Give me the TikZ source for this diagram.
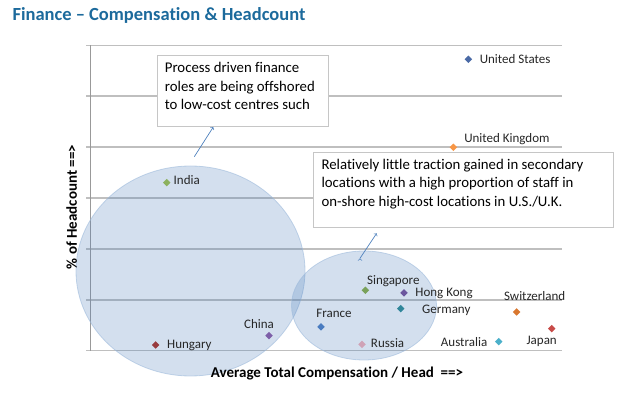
\documentclass[tikz,border=0pt]{standalone}
\usepackage{fontspec}
\setmainfont{Carlito}[Ligatures=NoCommon]
\usetikzlibrary{shapes.geometric,positioning}
\definecolor{ttlblue}{HTML}{1C6A9C}
\definecolor{blobblue}{HTML}{4F81BD}
\definecolor{cUS}{HTML}{4A6AA6}
\definecolor{cUK}{HTML}{F79646}
\definecolor{cIN}{HTML}{8CB15E}
\definecolor{cHU}{HTML}{983B3E}
\definecolor{cCN}{HTML}{7D5FA8}
\definecolor{cFR}{HTML}{4A7CC0}
\definecolor{cSG}{HTML}{79A15A}
\definecolor{cHK}{HTML}{6B569E}
\definecolor{cDE}{HTML}{31869A}
\definecolor{cRU}{HTML}{CFA2B6}
\definecolor{cAU}{HTML}{4BB0CA}
\definecolor{cCH}{HTML}{D9772F}
\definecolor{cJP}{HTML}{C84B48}

\begin{document}
\begin{tikzpicture}[x=1pt,y=-1pt,
  grid/.style={draw=gray!50,line width=1.5pt},
  blob/.style={draw=blobblue!55,fill=blobblue,fill opacity=.25,draw opacity=.6,line width=.8pt},
  pt/.style={diamond,fill=#1,inner sep=0pt,outer sep=0pt,minimum size=7.5pt},
  lbl/.style={inner sep=0pt,font=\fontsize{13}{15}\selectfont,text=black!85},
  note/.style={draw=gray!45,fill=white,line width=.8pt,anchor=north west},
  notetext/.style={inner sep=0pt,align=left,font=\fontsize{14.8}{18.3}\selectfont},
  arr/.style={->,draw=blobblue,line width=.7pt}]
\useasboundingbox (0,0) rectangle (625,403);

% title
\node[anchor=west,text=ttlblue,font=\fontsize{18.5}{22}\selectfont\bfseries] (title) at (9,15)
  {Finance -- Compensation \& Headcount};

% grid and axis
\foreach \k in {0,...,6}
  \draw[grid] (86,{45.3+50.9*\k}) -- (561.7,{45.3+50.9*\k});
\draw[draw=gray!80,line width=1.2pt] (90.5,45.3) -- (90.5,350.7);

% clusters
\node[blob,ellipse,minimum width=229pt,minimum height=210pt] (low) at (190.5,271) {};
\node[blob,ellipse,minimum width=145pt,minimum height=109pt] (mid) at (364,305.5) {};

% countries
\foreach \n/\x/\y/\c in {us/468.3/59.3/cUS, uk/453.3/147.3/cUK, in/166.7/182.7/cIN,
    hu/155.7/345/cHU, cn/269/335.7/cCN, fr/321/327/cFR, sg/365.3/290.3/cSG,
    hk/404/293/cHK, de/400.7/308.7/cDE, ru/362/344.3/cRU, au/498.7/341.7/cAU,
    ch/516.7/312/cCH, jp/551.7/328.7/cJP}
  \node[pt=\c] (\n) at (\x,\y) {};

\node[lbl,right=7.5pt of us] (usl) {United States};
\node[lbl,right=7pt of uk,yshift=8pt] (ukl) {United Kingdom};
\node[lbl,right=3pt of in,yshift=3pt] (inl) {India};
\node[lbl,right=7.5pt of hu] (hul) {Hungary};
\node[lbl,above=3pt of cn,xshift=-10pt] (cnl) {China};
\node[lbl,above=5pt of fr,xshift=13pt] (frl) {France};
\node[lbl,above=0pt of sg,xshift=28pt] (sgl) {Singapore};
\node[lbl,right=7.5pt of hk] (hkl) {Hong Kong};
\node[lbl,right=17.5pt of de,yshift=-2pt] (del) {Germany};
\node[lbl,right=5pt of ru,yshift=1pt] (rul) {Russia};
\node[lbl,left=7.5pt of au] (aul) {Australia};
\node[lbl,above=7pt of ch,xshift=18pt] (chl) {Switzerland};
\node[lbl,below=3.6pt of jp,xshift=-10pt] (jpl) {Japan};

% axis titles
\node[font=\fontsize{15}{18}\selectfont\bfseries] (xlab) at (337,374)
  {Average Total Compensation / Head\ \ ==>};
\node[font=\fontsize{15}{18}\selectfont\bfseries,rotate=90] (ylab) at (71.7,207)
  {\% of Headcount ==>};

% notes
\node[note,minimum width=171.6pt,minimum height=71pt] (offshore) at (156.7,55) {};
\node[notetext,below right=54.4pt and 8pt of offshore.north west,anchor=base west] (offtxt)
  {Process driven finance\\roles are being offshored\\to low-cost centres such};
\node[note,minimum width=299.4pt,minimum height=75pt] (traction) at (313.3,152.3) {};
\node[notetext,below right=53.8pt and 8pt of traction.north west,anchor=base west] (tractxt)
  {Relatively little traction gained in secondary\\locations with a high proportion of staff in\\on-shore high-cost locations in U.S./U.K.};

\coordinate (t1) at (194.3,156.7);
\coordinate (h1) at (213.3,127);
\coordinate (t2) at (360,258.3);
\coordinate (h2) at (376.7,233.3);
\path[arr] (t1) edge (h1)
           (t2) edge (h2);
\end{tikzpicture}
\end{document}
